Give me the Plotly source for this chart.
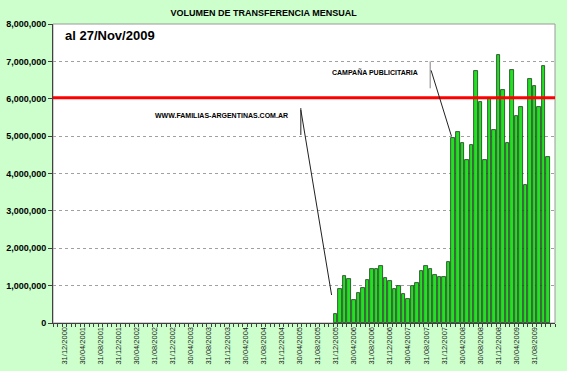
import plotly.graph_objects as go

# ---- data ----
# month axis: index 0 = Oct 2000 ... index 110 = Dec 2009
n_months = 111
first_bar_index = 62  # Dec 2005
volumes = [
    230000,
    900000, 1260000, 1170000, 620000, 790000, 940000, 1140000, 1440000, 1440000, 1520000, 1200000, 1120000,
    900000, 990000, 780000, 630000, 1000000, 1060000, 1380000, 1520000, 1450000, 1290000, 1220000, 1240000,
    1630000, 4940000, 5100000, 4810000, 4370000, 4760000, 6730000, 5900000, 4350000, 6030000, 5160000, 7180000,
    6240000, 4810000, 6760000, 5540000, 5790000, 3680000, 6540000, 6340000, 5790000, 6870000, 4440000,
]
tick_labels = [
    "31/12/2000", "30/04/2001", "31/08/2001", "31/12/2001", "30/04/2002", "31/08/2002",
    "31/12/2002", "30/04/2003", "31/08/2003", "31/12/2003", "30/04/2004", "31/08/2004",
    "31/12/2004", "30/04/2005", "31/08/2005", "31/12/2005", "30/04/2006", "31/08/2006",
    "31/12/2006", "30/04/2007", "31/08/2007", "31/12/2007", "30/04/2008", "30/08/2008",
    "31/12/2008", "30/04/2009", "31/08/2009",
]
first_tick_index = 2
tick_step = 4
reference_level = 6030000

x_vals = [first_bar_index + i for i in range(len(volumes))]
tick_vals = [first_tick_index + tick_step * i for i in range(len(tick_labels))]

FONT = "Arial, Liberation Sans, sans-serif"

fig = go.Figure()
fig.add_trace(go.Bar(
    x=x_vals, y=volumes, width=0.78,
    marker=dict(color="#22E022", line=dict(color="#1A3A1A", width=0.8)),
    hoverinfo="x+y",
))

fig.update_layout(
    width=567, height=371,
    margin=dict(l=53, r=12, t=24, b=48),
    paper_bgcolor="#CCFFCC",
    plot_bgcolor="#FFFFFF",
    showlegend=False,
    bargap=0,
    title=dict(text="<b>VOLUMEN DE TRANSFERENCIA MENSUAL</b>",
               x=0.465, xanchor="center", y=0.965, yanchor="middle", yref="container",
               font=dict(family=FONT, size=9, color="#000000")),
    xaxis=dict(
        range=[-0.5, n_months - 0.5], automargin=False,
        tickmode="array", tickvals=tick_vals, ticktext=tick_labels,
        tickangle=-90, ticks="", showgrid=False, zeroline=False,
        tickfont=dict(family=FONT, size=7.5, color="#222222"),
        showline=True, linecolor="#404040", linewidth=1,
        minor=dict(ticks="outside", ticklen=3, tick0=0.5, dtick=1, tickcolor="#404040", showgrid=False),
    ),
    yaxis=dict(
        range=[0, 8000000], dtick=1000000, tickformat=",d", automargin=False,
        ticks="outside", ticklen=4, tickcolor="#404040",
        showgrid=True, gridcolor="#A0A0A0", griddash="dot", gridwidth=1,
        zeroline=False,
        showline=True, linecolor="#404040", linewidth=1,
        tickfont=dict(family=FONT, size=9, color="#000000", weight="bold"),
    ),
)

# plot area border
fig.add_shape(type="rect", xref="paper", yref="paper", x0=0, x1=1, y0=0, y1=1,
              line=dict(color="#9A9A9A", width=1), layer="below")

# reference line
fig.add_shape(type="line", xref="paper", yref="y", x0=0, x1=1,
              y0=reference_level, y1=reference_level,
              line=dict(color="#FF0000", width=3))

# date annotation
fig.add_annotation(text="<b>al 27/Nov/2009</b>", xref="paper", yref="paper",
                   x=0.02, y=0.961, xanchor="left", yanchor="middle", showarrow=False,
                   font=dict(family=FONT, size=13, color="#000000"))

# callouts
fig.add_annotation(text="<b>CAMPAÑA PUBLICITARIA</b>", x=70.6, y=6720000,
                   showarrow=False, font=dict(family=FONT, size=7, color="#000000"))
fig.add_annotation(text="<b>WWW.FAMILIAS-ARGENTINAS.COM.AR</b>", x=36.8, y=5560000,
                   showarrow=False, font=dict(family=FONT, size=7, color="#000000"))

leader = dict(color="#202020", width=1)
fig.add_shape(type="line", x0=82.9, x1=82.9, y0=6280000, y1=7000000, line=dict(color="#808080", width=1))
fig.add_shape(type="line", x0=83.1, x1=87.6, y0=6760000, y1=5000000, line=leader)
fig.add_shape(type="line", x0=54.3, x1=54.3, y0=5030000, y1=5750000, line=leader)
fig.add_shape(type="line", x0=54.3, x1=61.1, y0=5700000, y1=750000, line=leader)

fig.write_html("out.html",
               config={"displayModeBar": False},
               post_script="document.body.style.margin='0';document.body.style.padding='0';document.body.style.overflow='hidden';")
